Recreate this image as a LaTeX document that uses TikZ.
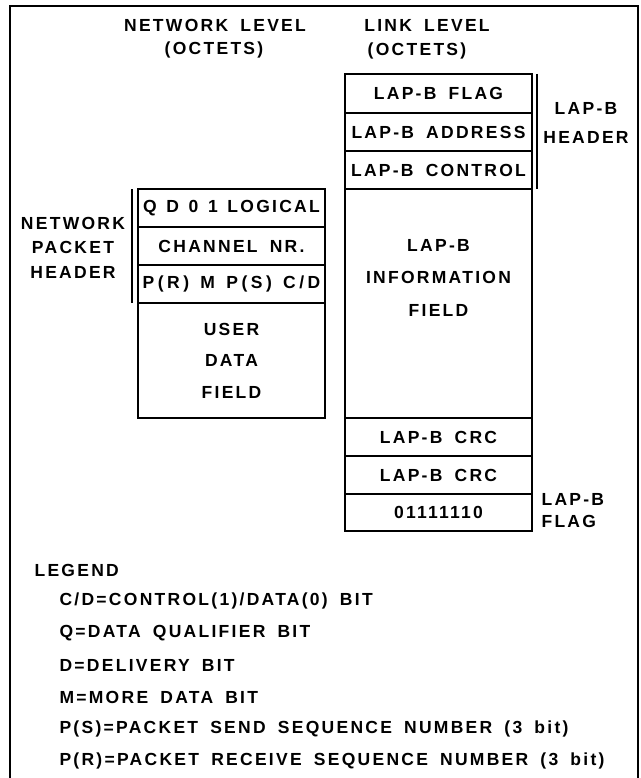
\documentclass[tikz,border=0pt]{standalone}
\usepackage{fontspec}
\setmainfont{Liberation Sans}[LetterSpace=13, WordSpace=1.7]
\newfontfamily\bitsfam{Liberation Sans}[LetterSpace=13, WordSpace=1.35]
\newfontfamily\seqfam{Liberation Sans}[LetterSpace=20, WordSpace=1.35]
\usetikzlibrary{positioning}

\newcommand{\lapfont}{\fontsize{17.5}{24}\selectfont\bfseries}
\tikzset{
  octet/.style={draw, minimum width=187pt, minimum height=38pt, inner sep=0pt, outer sep=0pt, font=\lapfont},
  lbl/.style={inner sep=0pt, font=\lapfont},
}

\begin{document}
\begin{tikzpicture}[x=1pt, y=-1pt, line width=1.1pt]
  \useasboundingbox (0,0) rectangle (640,778);
  \draw (10,778) -- (10,6) -- (638,6) -- (638,778);

  \node[lbl] (netlvl) at (215,25) {NETWORK LEVEL};
  \node[lbl] (netoct) at (214,50) {(OCTETS)};
  \node[lbl] (linklvl) at (427,25) {LINK LEVEL};
  \node[lbl] (linkoct) at (417,51) {(OCTETS)};

  % link level frame
  \node[octet, minimum height=39pt] (flag) at (438.5,93.5) {LAP-B FLAG};
  \node[octet, below=0pt of flag] (addr) {LAP-B ADDRESS};
  \node[octet, below=0pt of addr] (ctrl) {LAP-B CONTROL};
  \node[octet, minimum height=229pt, below=0pt of ctrl] (info) {};
  \node[octet, below=0pt of info] (crca) {LAP-B CRC};
  \node[octet, below=0pt of crca] (crcb) {LAP-B CRC};
  \node[octet, minimum height=37pt, below=0pt of crcb] (endflag) {01111110};
  \node[lbl, align=center, font={\fontsize{17.5}{32.5}\selectfont\bfseries}] (infotxt) at (438.5,277.5) {LAP-B\\INFORMATION\\FIELD};

  \draw ([xshift=5pt]flag.north east) -- ([xshift=5pt]ctrl.south east);
  \node[lbl, align=center, font={\fontsize{17.5}{29}\selectfont\bfseries}] (hdr) at (586,122.5) {LAP-B\\HEADER};
  \node[lbl, align=left, anchor=west, font={\fontsize{17.5}{22}\selectfont\bfseries}] (flaglbl) at (541,511) {LAP-B\\FLAG};

  % network level packet
  \node[octet] (qd) at (231.5,208) {\bitsfam Q D 0 1 LOGICAL};
  \node[octet, below=0pt of qd] (chan) {CHANNEL NR.};
  \node[octet, below=0pt of chan] (pr) {\seqfam P(R) M P(S) C/D};
  \node[octet, minimum height=115pt, below=0pt of pr, align=center, font={\fontsize{17.5}{31.5}\selectfont\bfseries}] (user) {USER\\DATA\\FIELD};

  \draw ([xshift=-6pt]qd.north west) -- ([xshift=-6pt]pr.south west);
  \node[lbl, align=center, font={\fontsize{17.5}{24.5}\selectfont\bfseries}] (nethdr) at (73,247.5) {NETWORK\\PACKET\\HEADER};

  % legend
  \node[lbl, anchor=west] (legend) at (34,570) {LEGEND};
  \foreach \txt [count=\i] in {{C/D=CONTROL(1)/DATA(0) BIT}, {Q=DATA QUALIFIER BIT}, {D=DELIVERY BIT}, {M=MORE DATA BIT}, {P(S)=PACKET SEND SEQUENCE NUMBER (3 bit)}, {P(R)=PACKET RECEIVE SEQUENCE NUMBER (3 bit)}}
    \node[lbl, anchor=west] (leg\i) at (59,{569+32*\i}) {\txt};
\end{tikzpicture}
\end{document}
